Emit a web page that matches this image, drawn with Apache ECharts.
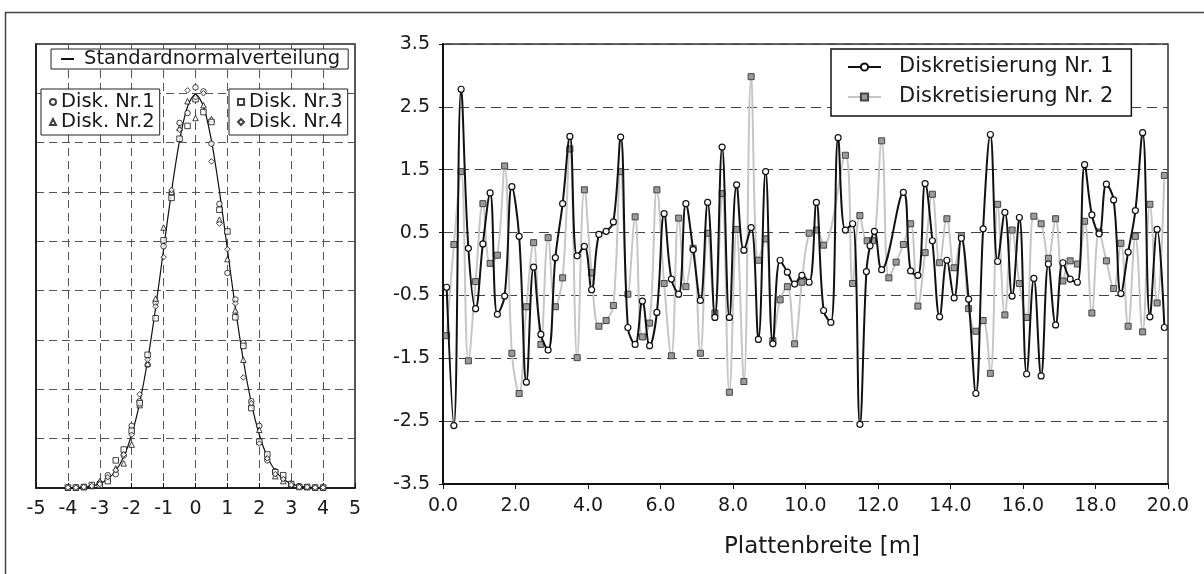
<!DOCTYPE html>
<html><head><meta charset="utf-8">
<script src="https://cdn.jsdelivr.net/npm/echarts@6/dist/echarts.min.js"></script>
<style>html,body{margin:0;padding:0;background:#fff}#c{width:1204px;height:574px}</style>
</head><body><div id="c"></div>
<script>
// ---------- left chart data (x = -4 ... 4, step 0.25) ----------
const leftX = [-4,-3.75,-3.5,-3.25,-3,-2.75,-2.5,-2.25,-2,-1.75,-1.5,-1.25,-1,-0.75,-0.5,-0.25,0,0.25,0.5,0.75,1,1.25,1.5,1.75,2,2.25,2.5,2.75,3,3.25,3.5,3.75,4];
const normalCurve = [0.0001,0.0004,0.0009,0.0020,0.0044,0.0091,0.0175,0.0317,0.0540,0.0863,0.1295,0.1826,0.2420,0.3011,0.3521,0.3867,0.3989,0.3867,0.3521,0.3011,0.2420,0.1826,0.1295,0.0863,0.0540,0.0317,0.0175,0.0091,0.0044,0.0020,0.0009,0.0004,0.0001];
const disk1 = [0.0005,0.0005,0.001,0.002,0.005,0.013,0.014,0.033,0.063,0.088,0.125,0.188,0.245,0.299,0.370,0.380,0.406,0.402,0.349,0.288,0.218,0.191,0.147,0.088,0.063,0.028,0.017,0.010,0.004,0.002,0.001,0.0005,0.0005];
const disk2 = [0.0005,0.0005,0.001,0.002,0.007,0.010,0.020,0.025,0.044,0.084,0.126,0.192,0.264,0.300,0.365,0.392,0.375,0.388,0.374,0.272,0.232,0.180,0.130,0.085,0.059,0.032,0.012,0.007,0.005,0.002,0.001,0.0005,0.0005];
const disk3 = [0.0005,0.0005,0.001,0.003,0.003,0.007,0.028,0.039,0.058,0.086,0.135,0.172,0.251,0.294,0.354,0.367,0.394,0.381,0.371,0.282,0.260,0.173,0.144,0.081,0.047,0.034,0.016,0.013,0.004,0.001,0.001,0.0005,0.0005];
const disk4 = [0.0005,0.0005,0.001,0.002,0.004,0.011,0.018,0.034,0.054,0.095,0.130,0.184,0.234,0.302,0.363,0.403,0.396,0.400,0.331,0.268,0.242,0.187,0.112,0.086,0.045,0.030,0.014,0.009,0.003,0.001,0.001,0.0005,0.0005];
const leftTicks = [-5,-4,-3,-2,-1,0,1,2,3,4,5];

// ---------- right chart data ----------
const d1x = [0.1,0.3,0.5,0.7,0.9,1.1,1.3,1.5,1.7,1.9,2.1,2.3,2.5,2.7,2.9,3.1,3.3,3.5,3.7,3.9,4.1,4.3,4.5,4.7,4.9,5.1,5.3,5.5,5.7,5.9,6.1,6.3,6.5,6.7,6.9,7.1,7.3,7.5,7.7,7.9,8.1,8.3,8.5,8.7,8.9,9.1,9.3,9.5,9.7,9.9,10.1,10.3,10.5,10.7,10.9,11.1,11.3,11.5,11.68,11.78,11.9,12.1,12.7,12.9,13.1,13.3,13.5,13.7,13.9,14.1,14.3,14.5,14.7,14.9,15.1,15.3,15.5,15.7,15.9,16.1,16.3,16.5,16.7,16.9,17.1,17.3,17.5,17.7,17.9,18.1,18.3,18.5,18.7,18.9,19.1,19.3,19.5,19.7,19.9];
const d1y = [-0.37,-2.57,2.78,0.25,-0.71,0.32,1.13,-0.80,-0.51,1.23,0.44,-1.88,-0.05,-1.12,-1.37,0.10,0.96,2.03,0.13,0.28,-0.41,0.47,0.52,0.67,2.02,-1.01,-1.28,-0.59,-1.30,-0.77,0.80,-0.24,-0.48,0.96,0.23,-0.58,0.98,-0.85,1.86,-0.85,1.26,0.22,0.58,-1.20,1.47,-1.27,0.06,-0.13,-0.32,-0.18,-0.29,0.98,-0.74,-0.93,2.01,0.54,0.64,-2.55,-0.12,0.29,0.52,-0.09,1.14,-0.11,-0.18,1.28,0.37,-0.84,0.06,-0.54,0.41,-0.56,-2.06,0.56,2.06,0.04,0.82,-0.51,0.74,-1.75,-0.23,-1.78,0.00,-0.97,0.02,-0.24,-0.29,1.58,0.78,0.48,1.27,1.02,-0.47,0.19,0.85,2.09,-0.84,0.55,-1.01];
const d2x = [0.1,0.3,0.5,0.7,0.9,1.1,1.3,1.5,1.7,1.9,2.1,2.3,2.5,2.7,2.9,3.1,3.3,3.5,3.7,3.9,4.1,4.3,4.5,4.7,4.9,5.1,5.3,5.5,5.7,5.9,6.1,6.3,6.5,6.7,6.9,7.1,7.3,7.5,7.7,7.9,8.1,8.3,8.5,8.7,8.9,9.1,9.3,9.5,9.7,9.9,10.1,10.3,10.5,11.1,11.3,11.5,11.7,11.85,12.1,12.3,12.5,12.7,12.9,13.1,13.3,13.5,13.7,13.9,14.1,14.3,14.5,14.7,14.9,15.1,15.3,15.5,15.7,15.9,16.1,16.3,16.5,16.7,16.9,17.1,17.3,17.5,17.7,17.9,18.1,18.3,18.5,18.7,18.9,19.1,19.3,19.5,19.7,19.9];
const d2y = [-1.14,0.31,1.47,-1.54,-0.28,0.96,0.01,0.14,1.56,-1.42,-2.06,-0.68,0.34,-1.28,0.42,-0.68,-0.22,1.83,-1.49,1.18,-0.14,-0.99,-0.90,-0.66,1.47,-0.48,0.75,-1.16,-0.94,1.18,-0.31,-1.46,0.73,-0.36,0.25,-1.42,0.49,-0.78,1.12,-2.04,0.55,-1.87,2.98,0.06,0.40,-1.22,-0.57,-0.36,-1.27,-0.29,0.49,0.54,0.30,1.73,-0.31,0.77,0.37,0.37,1.96,-0.22,0.03,0.31,0.64,-0.67,0.18,1.11,0.02,0.72,-0.06,0.45,-0.71,-1.07,-0.90,-1.74,0.95,-0.81,0.54,-0.31,-0.85,0.76,0.64,0.09,0.72,-0.27,0.05,0.00,0.68,-0.78,0.51,0.05,-0.39,0.33,-0.99,0.44,-1.08,0.95,-0.62,1.41];
const rightName = 'Plattenbreite [m]';
const names = ['Standardnormalverteilung','Disk. Nr.1','Disk. Nr.2','Disk. Nr.3','Disk. Nr.4','Diskretisierung Nr. 1','Diskretisierung Nr. 2'];

const FONT = 'DejaVu Sans';
const pair = (xs, ys) => xs.map((x, i) => [x, ys[i]]);
const markerStyle = {color:'#fff', borderColor:'#111', borderWidth:1};

const chart = echarts.init(document.getElementById('c'), null, {renderer:'canvas'});
chart.setOption({
  animation:false,
  backgroundColor:'#fff',
  textStyle:{fontFamily:FONT, color:'#1a1a1a'},
  graphic:[{type:'polyline', silent:true, shape:{points:[[5.5,574],[5.5,12.5],[1204,12.5]]}, style:{stroke:'#444', lineWidth:1.5, fill:null}}],
  grid:[
    {left:36, right:849, top:44, bottom:86, show:true, borderColor:'#222', borderWidth:1.5, backgroundColor:'transparent'},
    {left:443, right:36, top:44, bottom:90, show:true, borderColor:'#333', borderWidth:1.5, backgroundColor:'transparent'}
  ],
  legend:[
    {data:[names[0]], left:51, top:49, orient:'horizontal', padding:[0,8,0,9], itemWidth:13, itemHeight:2, itemGap:0,
     borderColor:'#222', borderWidth:1, backgroundColor:'#fff', textStyle:{fontFamily:FONT, fontSize:19.5, color:'#1a1a1a', lineHeight:20, padding:[0,0,0,5]}},
    {data:[names[1],names[2]], left:41, top:89, orient:'vertical', padding:[3,5,3,8], itemWidth:6, itemHeight:6, itemGap:0,
     borderColor:'#222', borderWidth:1, backgroundColor:'#fff', textStyle:{fontFamily:FONT, fontSize:19.5, color:'#1a1a1a', lineHeight:20, padding:[0,0,0,0]}},
    {data:[names[3],names[4]], left:229, top:89, orient:'vertical', padding:[3,5,3,8], itemWidth:6, itemHeight:6, itemGap:0,
     borderColor:'#222', borderWidth:1, backgroundColor:'#fff', textStyle:{fontFamily:FONT, fontSize:19.5, color:'#1a1a1a', lineHeight:20, padding:[0,0,0,0]}},
    {data:[names[5],names[6]], left:831, top:49, orient:'vertical', padding:[7,18,8,16], itemWidth:33, itemHeight:9, itemGap:8,
     borderColor:'#111', borderWidth:1.5, backgroundColor:'#fff', textStyle:{fontFamily:FONT, fontSize:21, color:'#1a1a1a', lineHeight:22, padding:[0,0,0,13]}}
  ],
  xAxis:[
    {gridIndex:0, type:'value', min:-5, max:5, interval:1,
     axisLine:{onZero:false, lineStyle:{color:'#111', width:1.5}}, axisTick:{inside:true, length:5, lineStyle:{color:'#111'}},
     axisLabel:{fontFamily:FONT, fontSize:19, color:'#1a1a1a', margin:12},
     splitLine:{show:true, lineStyle:{type:[8,5], color:'#555', width:1}}},
    {gridIndex:1, type:'value', min:0, max:20, interval:2,
     axisLine:{onZero:false, lineStyle:{color:'#111', width:2}}, axisTick:{inside:false, length:5, lineStyle:{color:'#111'}},
     axisLabel:{fontFamily:FONT, fontSize:19, color:'#1a1a1a', margin:13, formatter:v=>v.toFixed(1)},
     splitLine:{show:false},
     name:rightName, nameLocation:'middle', nameGap:52,
     nameTextStyle:{fontFamily:FONT, fontSize:23, color:'#1a1a1a', padding:[0,0,0,33]}}
  ],
  yAxis:[
    {gridIndex:0, type:'value', min:0, max:0.45, interval:0.05,
     axisLine:{onZero:false, lineStyle:{color:'#111', width:1.5}}, axisTick:{show:false}, axisLabel:{show:false},
     splitLine:{show:true, lineStyle:{type:[8,5], color:'#555', width:1}}},
    {gridIndex:1, type:'value', min:-3.5, max:3.5, interval:1,
     axisLine:{onZero:false, lineStyle:{color:'#111', width:2}}, axisTick:{inside:false, length:4, lineStyle:{color:'#111'}},
     axisLabel:{fontFamily:FONT, fontSize:19, color:'#1a1a1a', margin:13},
     splitLine:{show:true, lineStyle:{type:[10,6], color:'#444', width:1}}}
  ],
  series:[
    {name:names[0], type:'line', xAxisIndex:0, yAxisIndex:0, data:pair(leftX, normalCurve), smooth:0.3, showSymbol:false, symbol:'none',
     lineStyle:{color:'#111', width:1.2}, itemStyle:{color:'#111'}, z:2},
    {name:names[1], type:'scatter', xAxisIndex:0, yAxisIndex:0, data:pair(leftX, disk1), symbol:'circle', symbolSize:5.5, itemStyle:markerStyle, z:3},
    {name:names[2], type:'scatter', xAxisIndex:0, yAxisIndex:0, data:pair(leftX, disk2), symbol:'triangle', symbolSize:5.5, itemStyle:markerStyle, z:3},
    {name:names[3], type:'scatter', xAxisIndex:0, yAxisIndex:0, data:pair(leftX, disk3), symbol:'rect', symbolSize:5.5, itemStyle:markerStyle, z:3},
    {name:names[4], type:'scatter', xAxisIndex:0, yAxisIndex:0, data:pair(leftX, disk4), symbol:'diamond', symbolSize:5.5, itemStyle:markerStyle, z:3},
    {name:names[6], type:'line', xAxisIndex:1, yAxisIndex:1, data:pair(d2x, d2y), smooth:0.4, symbol:'rect', symbolSize:6, showAllSymbol:true,
     lineStyle:{color:'#c6c6c6', width:2}, itemStyle:{color:'#9b9b9b', borderColor:'#444', borderWidth:1}, z:3},
    {name:names[5], type:'line', xAxisIndex:1, yAxisIndex:1, data:pair(d1x, d1y), smooth:0.4, symbol:'circle', symbolSize:6, showAllSymbol:true,
     lineStyle:{color:'#111', width:2}, itemStyle:{color:'#fff', borderColor:'#111', borderWidth:1.2}, z:4}
  ]
});
</script></body></html>
